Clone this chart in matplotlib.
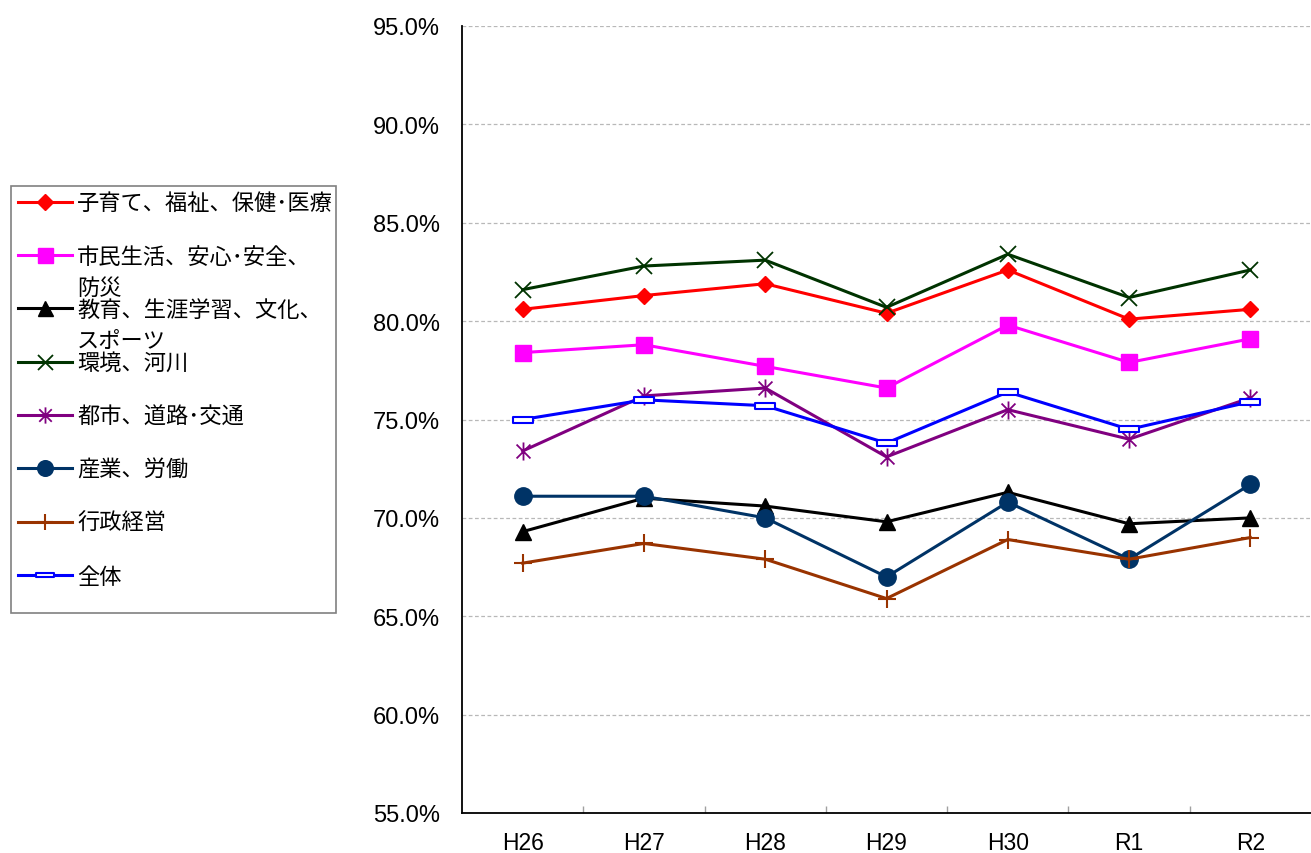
import matplotlib.pyplot as plt
from matplotlib.path import Path
from matplotlib.patches import Rectangle
from matplotlib.lines import Line2D
from matplotlib.ticker import FuncFormatter, MultipleLocator

# 年度
years = ['H26', 'H27', 'H28', 'H29', 'H30', 'R1', 'R2']

# 分野別の割合 (%)
kosodate = [80.6, 81.3, 81.9, 80.4, 82.6, 80.1, 80.6]
shimin = [78.4, 78.8, 77.7, 76.6, 79.8, 77.9, 79.1]
kyoiku = [69.3, 71.0, 70.6, 69.8, 71.3, 69.7, 70.0]
kankyo = [81.6, 82.8, 83.1, 80.7, 83.4, 81.2, 82.6]
toshi = [73.4, 76.2, 76.6, 73.1, 75.5, 74.0, 76.1]
sangyo = [71.1, 71.1, 70.0, 67.0, 70.8, 67.9, 71.7]
gyosei = [67.7, 68.7, 67.9, 65.9, 68.9, 67.9, 69.0]
zentai = [75.0, 76.0, 75.7, 73.8, 76.4, 74.5, 75.9]

labels = [
	['子育て、福祉、保健･医療'],
	['市民生活、安心･安全、', '防災'],
	['教育、生涯学習、文化、', 'スポーツ'],
	['環境、河川'],
	['都市、道路･交通'],
	['産業、労働'],
	['行政経営'],
	['全体'],
]

# custom markers: asterisk (x + vertical bar) and hollow dash
asterisk = Path([(-1, -1), (1, 1), (-1, 1), (1, -1), (0, -1.3), (0, 1.3)],
				[Path.MOVETO, Path.LINETO, Path.MOVETO, Path.LINETO, Path.MOVETO, Path.LINETO])
dash = Path([(-1, -0.25), (1, -0.25), (1, 0.25), (-1, 0.25), (-1, -0.25)],
			[Path.MOVETO, Path.LINETO, Path.LINETO, Path.LINETO, Path.CLOSEPOLY])

styles = [
	dict(color='#FF0000', marker='D', ms=8.5),
	dict(color='#FF00FF', marker='s', ms=12),
	dict(color='#000000', marker='^', ms=12),
	dict(color='#003300', marker='x', ms=12, mew=1.3),
	dict(color='#800080', marker=asterisk, ms=13, mew=1.3),
	dict(color='#003366', marker='o', ms=12.5),
	dict(color='#993300', marker='+', ms=13, mew=1.5),
	dict(color='#0000FF', marker=dash, ms=15, mfc='white', mew=1.5),
]
series = [kosodate, shimin, kyoiku, kankyo, toshi, sangyo, gyosei, zentai]

W, H = 1311, 854
fig = plt.figure(figsize=(W / 100, H / 100), dpi=100)
plt.rcParams['font.family'] = ['Liberation Sans', 'DejaVu Sans']

def fx(px):
	return px / W

def fy(py):
	return 1 - py / H

ax = fig.add_axes([fx(462), fy(814), fx(1311) - fx(462), fy(27) - fy(814)])

x = list(range(len(years)))
for vals, st in zip(series, styles):
	ax.plot(x, vals, lw=2.2, **st)

ax.set_xlim(-0.5, len(years) - 0.5)
ax.set_ylim(55, 95)
ax.yaxis.set_major_locator(MultipleLocator(5))
ax.yaxis.set_major_formatter(FuncFormatter(lambda v, p: f'{v:.1f}%'))
ax.set_xticks(x)
ax.set_xticklabels(years)
ax.set_xticks([i + 0.5 for i in range(len(years) - 1)], minor=True)
ax.tick_params(axis='x', which='major', length=0, pad=13, labelsize=16.5)
ax.tick_params(axis='x', which='minor', direction='in', length=5, color='#A0A0A0', width=1)
ax.tick_params(axis='y', length=0, pad=16, labelsize=17)
ax.grid(axis='y', color='#B8B8B8', lw=0.9, ls=(0, (3, 2)))
ax.set_axisbelow(True)
for s in ('top', 'right'):
	ax.spines[s].set_visible(False)
for s in ('left', 'bottom'):
	ax.spines[s].set_linewidth(1.3)
ax.set_clip_on(False)

# legend box drawn by hand so the wrapped labels keep an even row spacing
fig.patches.append(Rectangle((fx(11), fy(614)), fx(336) - fx(11), fy(187) - fy(614),
							 transform=fig.transFigure, fill=False, ec='#808080', lw=1.2))
y0, step = 202.7, 53.33
jp = ['Noto Sans CJK JP', 'DejaVu Sans']
for i, (lab, st) in enumerate(zip(labels, styles)):
	yy = y0 + i * step
	st2 = dict(st)
	st2['ms'] = st['ms'] * 0.9
	fig.lines.append(Line2D([fx(18), fx(45), fx(72)], [fy(yy)] * 3, lw=2.2,
							markevery=[1], transform=fig.transFigure, **st2))
	for j, line in enumerate(lab):
		fig.text(fx(77), fy(yy + 1 + j * 31), line, family=jp, fontsize=16, va='center', ha='left')

fig.savefig('out.png', dpi=100)
